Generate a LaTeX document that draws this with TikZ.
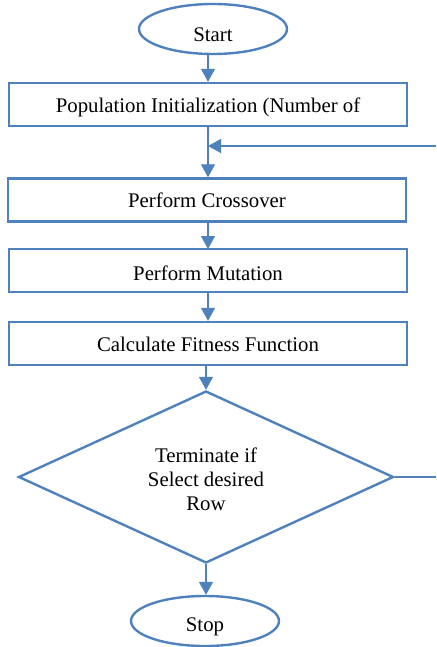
\documentclass[tikz,border=0pt]{standalone}
\usepackage{fontspec}
\setmainfont{Liberation Serif}
\usetikzlibrary{shapes.geometric,arrows.meta}
\definecolor{ob}{HTML}{4F81BD}
\newcommand{\lowr}[2]{\raisebox{-#1pt}[\height][\depth]{#2}}
\begin{document}
\begin{tikzpicture}[x=1pt,y=-1pt,
  box/.style={draw=ob, line width=2.4pt, minimum width=398pt, minimum height=43pt, inner sep=0pt, font=\fontsize{20.8}{24}\selectfont},
  term/.style={ellipse, draw=ob, line width=2.4pt, minimum width=148pt, minimum height=50pt, inner sep=0pt, font=\fontsize{20.8}{24}\selectfont},
  dec/.style={diamond, aspect=2.18, draw=ob, line width=2.4pt, minimum width=375pt, minimum height=172pt, inner sep=0pt, font=\fontsize{20.8}{24}\selectfont},
  conn/.style={draw=ob, line width=1.3pt, -{Triangle[length=13pt,width=14pt]}},
  plain/.style={draw=ob, line width=1.3pt}]
\useasboundingbox (0,0) rectangle (436,647);
\node[term] (start) at (213,29) {\lowr{6}{Start}};
\node[box] (p1) at (208,104.5) {\lowr{3}{Population Initialization (Number of}};
\node[box] (p2) at (207,200) {Perform Crossover};
\node[box] (p3) at (208,270.5) {\lowr{3}{Perform Mutation}};
\node[box] (p4) at (208,343.5) {\lowr{1}{Calculate Fitness Function}};
\node[dec] (d) at (206,477) {\lowr{5}{\begin{tabular}{@{}c@{}}Terminate if\\Select desired\\Row\end{tabular}}};
\node[term] (stop) at (205,621) {\lowr{6}{Stop}};
\coordinate (fb) at (436,146);
\coordinate (de) at (436,477);
\coordinate (a2) at (208,223);
\coordinate (a3) at (208,249);
\draw[conn] (start.south -| p1.north) -- (p1.north);
\draw[conn] (p1.south) -- (p1.south |- p2.north);
\draw[conn] (fb) -- (p1.south |- fb);
\draw[conn] (a2) -- (a3);
\draw[conn] (p3.south) -- (p4.north);
\draw[conn] (p4.south -| d.north) -- (d.north);
\draw[conn] (d.south) -- (d.south |- stop.north);
\draw[plain] (d.east) -- (de);
\end{tikzpicture}
\end{document}
